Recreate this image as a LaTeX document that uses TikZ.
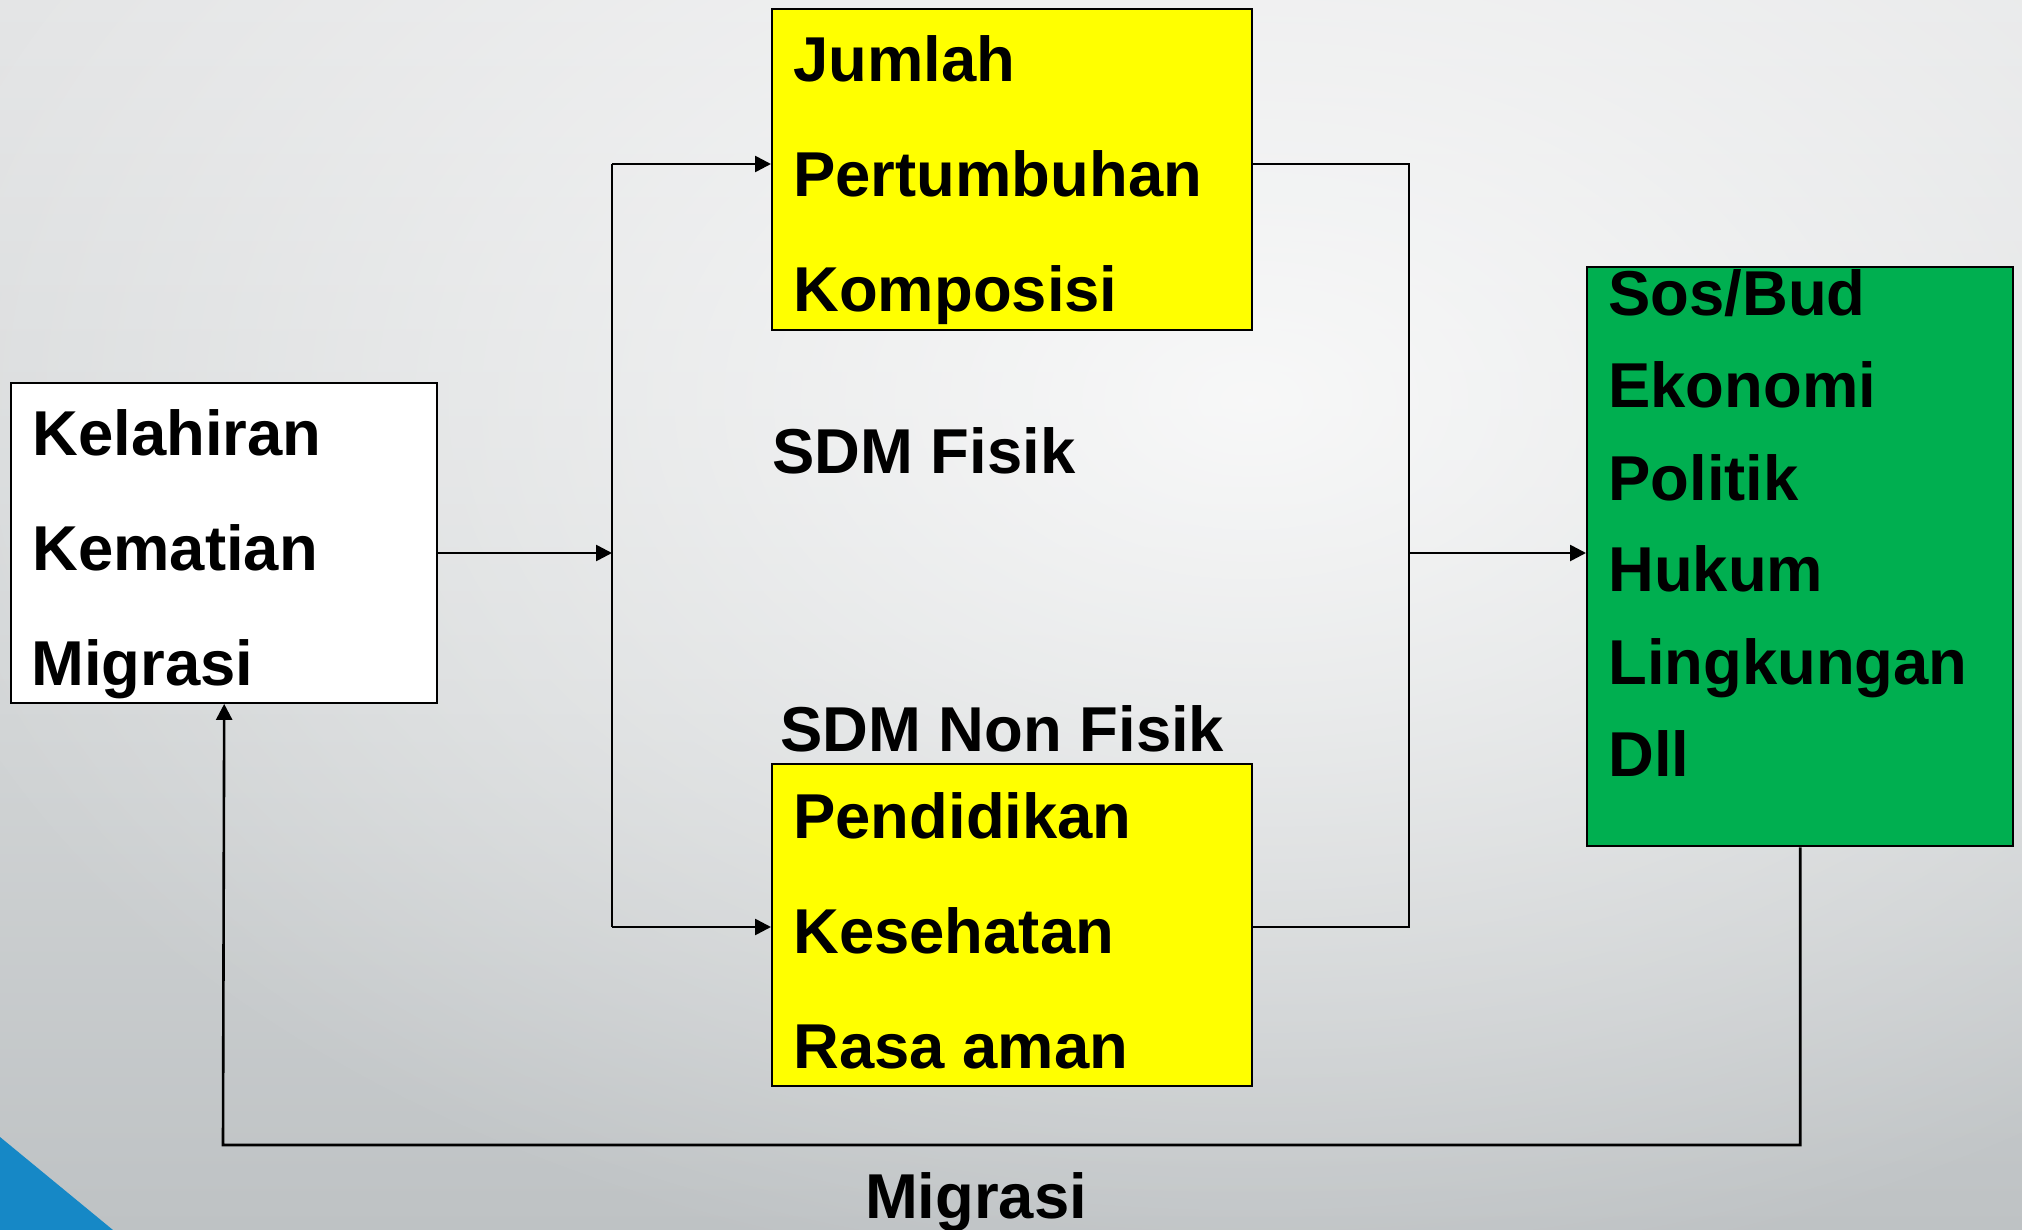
\documentclass[tikz,border=0pt]{standalone}
\usepackage{fontspec}
\setmainfont{Liberation Sans}
\usetikzlibrary{arrows.meta,fadings}
\definecolor{bgtop}{HTML}{E4E5E6}
\definecolor{bgmid}{HTML}{D2D5D6}
\definecolor{bgbot}{HTML}{BEC2C4}
\definecolor{boxyellow}{HTML}{FFFF00}
\definecolor{boxgreen}{HTML}{00AF50}
\definecolor{cornerblue}{HTML}{1688C6}
\tikzfading[name=glow, inner color=transparent!0, outer color=transparent!100]
\tikzset{
  boxstyle/.style={draw=black, line width=1.2pt, inner sep=0pt, anchor=north west},
  lbl/.style={anchor=base west, inner sep=0pt, font=\fontsize{31.7}{36}\selectfont\bfseries},
  lblc/.style={anchor=base, inner sep=0pt, font=\fontsize{31.7}{36}\selectfont\bfseries},
  conn/.style={line width=1.3pt},
  arr/.style={line width=1.3pt, -{Triangle[length=8pt,width=8pt]}},
}
\begin{document}
\begin{tikzpicture}[x=0.5pt,y=-0.5pt]
\useasboundingbox (0,0) rectangle (2022,1230);
% background
\shade[top color=bgtop, bottom color=bgmid] (0,0) rectangle (2022,700);
\shade[top color=bgmid, bottom color=bgbot] (0,700) rectangle (2022,1230);
\begin{scope}
\clip (0,0) rectangle (2022,1230);
\fill[white, path fading=glow, fill opacity=0.8] (1250,400) ellipse [x radius=1400, y radius=900];
\end{scope}
\fill[cornerblue] (0,1137) -- (113,1230) -- (0,1230) -- cycle;

% boxes
\node[boxstyle, fill=white, minimum width=213pt, minimum height=159.75pt] (lbox) at (10,382) {};
\node[boxstyle, fill=boxyellow, minimum width=240pt, minimum height=160.5pt] (top) at (771,8) {};
\node[boxstyle, fill=boxyellow, minimum width=240pt, minimum height=160.75pt] (bot) at (771,763) {};
\node[boxstyle, fill=boxgreen, minimum width=213pt, minimum height=289.5pt] (green) at (1586,266) {};

% texts
\node[lbl] (t1) at (32,455) {Kelahiran};
\node[lbl] (t2) at (32,570) {Kematian};
\node[lbl] (t3) at (31,685) {Migrasi};
\node[lbl] (t4) at (793,82) {Jumlah};
\node[lbl] (t5) at (793,197) {Pertumbuhan};
\node[lbl] (t6) at (793,311) {Komposisi};
\node[lbl] (t7) at (772,473) {SDM Fisik};
\node[lbl] (t8) at (780,751) {SDM Non Fisik};
\node[lbl] (t9) at (793,838) {Pendidikan};
\node[lbl] (t10) at (793,953) {Kesehatan};
\node[lbl] (t11) at (793,1068) {Rasa aman};
\node[lbl] (g1) at (1608,315) {Sos/Bud};
\node[lbl] (g2) at (1608,407) {Ekonomi};
\node[lbl] (g3) at (1608,500) {Politik};
\node[lbl] (g4) at (1608,591) {Hukum};
\node[lbl] (g5) at (1608,684) {Lingkungan};
\node[lbl] (g6) at (1608,776) {Dll};
\node[lblc] (mig) at (976,1218) {Migrasi};

% connectors
\coordinate (jl) at (612,553);
\coordinate (jr) at (1409,553);
\coordinate (rowt) at (612,164);
\coordinate (rowb) at (612,927);
\coordinate (fb) at (223,1145);
\draw[arr] (lbox.east |- jl) -- (jl);
\draw[conn] (rowt) -- (rowb);
\draw[arr] (rowt) -- (top.west |- rowt);
\draw[arr] (rowb) -- (bot.west |- rowb);
\draw[conn] (top.east |- rowt) -- (jr |- rowt) -- (jr |- rowb) -- (bot.east |- rowb);
\draw[arr] (jr) -- (green.west |- jr);
\draw[arr] (green.south) |- (fb) -- (lbox.south);
\end{tikzpicture}
\end{document}
